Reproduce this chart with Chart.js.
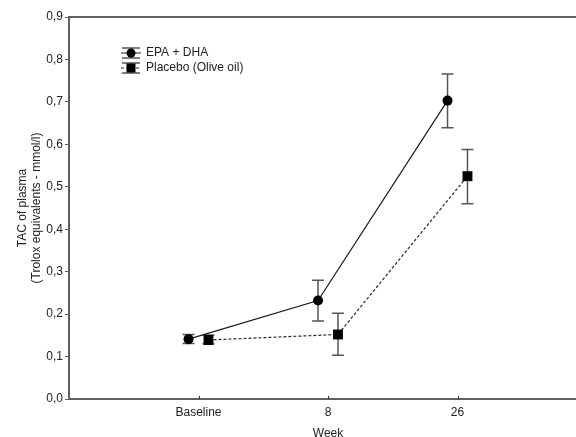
<!DOCTYPE html>
<html lang="en">
<head>
    <meta charset="UTF-8">
    <title>TAC of plasma</title>
    <script src="https://cdn.jsdelivr.net/npm/chart.js"></script>
    <style>
        html, body { margin: 0; padding: 0; background: #fff; overflow: hidden; }
        #wrap { width: 576px; height: 437px; overflow: hidden; }
        canvas { display: block; }
    </style>
</head>
<body>
    <div id="wrap"><canvas id="tacChart" width="600" height="437" style="width:600px;height:437px"></canvas></div>

    <script>
        // data
        const weeks = ["Baseline", "8", "26"];
        const epaMean = [0.141, 0.232, 0.703];
        const epaLow = [0.131, 0.184, 0.639];
        const epaHigh = [0.152, 0.280, 0.766];
        const placeboMean = [0.139, 0.152, 0.525];
        const placeboLow = [0.130, 0.103, 0.460];
        const placeboHigh = [0.151, 0.202, 0.588];
        const yTicks = [0, 0.1, 0.2, 0.3, 0.4, 0.5, 0.6, 0.7, 0.8, 0.9];

        const shift = 0.077; // groups are dodged left/right of each week
        const font = "Liberation Sans, Arial, sans-serif";
        const axisColor = "#5f5f5f";
        const barColor = "#555";

        function points(means, dx) {
            return means.map((v, i) => ({ x: i + 1 + dx, y: v }));
        }

        const errorBars = {
            id: "errorBars",
            beforeDatasetsDraw(chart) {
                const ctx = chart.ctx;
                const xs = chart.scales.x, ys = chart.scales.y;
                const sets = [[epaLow, epaHigh, -shift], [placeboLow, placeboHigh, shift]];
                ctx.save();
                ctx.strokeStyle = barColor;
                ctx.lineWidth = 1.5;
                sets.forEach(([lo, hi, dx]) => {
                    lo.forEach((l, i) => {
                        const x = xs.getPixelForValue(i + 1 + dx);
                        const y1 = ys.getPixelForValue(l);
                        const y2 = ys.getPixelForValue(hi[i]);
                        ctx.beginPath();
                        ctx.moveTo(x, y1); ctx.lineTo(x, y2);
                        ctx.moveTo(x - 6, y1); ctx.lineTo(x + 6, y1);
                        ctx.moveTo(x - 6, y2); ctx.lineTo(x + 6, y2);
                        ctx.stroke();
                    });
                });
                ctx.restore();
            },
            afterDraw(chart) {
                const ctx = chart.ctx;
                const a = chart.chartArea;
                const xs = chart.scales.x;
                ctx.save();
                // top frame line
                ctx.strokeStyle = axisColor;
                ctx.lineWidth = 2;
                ctx.beginPath();
                ctx.moveTo(a.left - 1, a.top);
                ctx.lineTo(a.right, a.top);
                ctx.stroke();
                // small inward ticks on the week axis
                ctx.lineWidth = 1;
                ctx.strokeStyle = "#333";
                [1, 2, 3].forEach(v => {
                    const x = Math.round(xs.getPixelForValue(v)) + 0.5;
                    ctx.beginPath();
                    ctx.moveTo(x, a.bottom);
                    ctx.lineTo(x, a.bottom - 3);
                    ctx.stroke();
                });

                // legend
                const lx = 131;
                const rows = [
                    { y: 53, label: "EPA + DHA", dash: [], shape: "circle" },
                    { y: 68, label: "Placebo (Olive oil)", dash: [3, 2], shape: "rect" }
                ];
                rows.forEach(r => {
                    ctx.strokeStyle = barColor;
                    ctx.lineWidth = 1.5;
                    ctx.setLineDash([]);
                    ctx.beginPath();
                    ctx.moveTo(lx, r.y - 5); ctx.lineTo(lx, r.y + 5);
                    ctx.moveTo(lx - 9, r.y - 5); ctx.lineTo(lx + 9, r.y - 5);
                    ctx.moveTo(lx - 9, r.y + 5); ctx.lineTo(lx + 9, r.y + 5);
                    ctx.stroke();
                    ctx.strokeStyle = "#222";
                    ctx.lineWidth = 1;
                    ctx.setLineDash(r.dash);
                    ctx.beginPath();
                    ctx.moveTo(lx - 10, r.y); ctx.lineTo(lx + 10, r.y);
                    ctx.stroke();
                    ctx.setLineDash([]);
                    ctx.fillStyle = "#000";
                    if (r.shape === "circle") {
                        ctx.beginPath();
                        ctx.arc(lx, r.y, 4.5, 0, Math.PI * 2);
                        ctx.fill();
                    } else {
                        ctx.fillRect(lx - 4.5, r.y - 4.5, 9, 9);
                    }
                    ctx.fillStyle = "#222";
                    ctx.font = "12px " + font;
                    ctx.textBaseline = "middle";
                    ctx.fillText(r.label, 146, r.y);
                });
                ctx.restore();
            }
        };

        new Chart(document.getElementById("tacChart"), {
            type: "line",
            data: {
                datasets: [
                    {
                        label: "EPA + DHA",
                        data: points(epaMean, -shift),
                        borderColor: "#1a1a1a",
                        borderWidth: 1.2,
                        backgroundColor: "#000",
                        pointBackgroundColor: "#000",
                        pointBorderWidth: 0,
                        pointStyle: "circle",
                        pointRadius: 5,
                        tension: 0
                    },
                    {
                        label: "Placebo (Olive oil)",
                        data: points(placeboMean, shift),
                        borderColor: "#2a2a2a",
                        borderWidth: 1.2,
                        borderDash: [3, 2],
                        backgroundColor: "#000",
                        pointBackgroundColor: "#000",
                        pointBorderWidth: 0,
                        pointStyle: "rect",
                        pointRadius: 7,
                        tension: 0
                    }
                ]
            },
            options: {
                responsive: false,
                animation: false,
                layout: { padding: { top: 17, right: 13, left: 0, bottom: 0 } },
                plugins: { legend: { display: false }, tooltip: { enabled: false } },
                scales: {
                    x: {
                        type: "linear",
                        min: 0,
                        max: 4,
                        afterBuildTicks: s => { s.ticks = [1, 2, 3].map(v => ({ value: v })); },
                        afterFit: s => { s.height = 38; },
                        grid: { display: false, drawTicks: false },
                        border: { display: true, color: axisColor, width: 2 },
                        ticks: {
                            callback: v => weeks[v - 1],
                            color: "#222",
                            font: { family: font, size: 12 },
                            padding: 6,
                            maxRotation: 0,
                            autoSkip: false
                        },
                        title: {
                            display: true,
                            text: "Week",
                            color: "#222",
                            font: { family: font, size: 12, lineHeight: 1 },
                            padding: { top: 0, bottom: -3 }
                        }
                    },
                    y: {
                        min: 0,
                        max: 0.9,
                        afterBuildTicks: s => { s.ticks = yTicks.map(v => ({ value: v })); },
                        afterFit: s => { s.width = 69; },
                        grid: { display: true, drawOnChartArea: false, tickLength: 4, color: axisColor, tickWidth: 1 },
                        border: { display: true, color: axisColor, width: 2 },
                        ticks: {
                            callback: v => v.toFixed(1).replace(".", ","),
                            color: "#222",
                            font: { family: font, size: 12 },
                            padding: 2
                        },
                        title: {
                            display: true,
                            text: ["TAC of plasma", "(Trolox equivalents - mmol/l)"],
                            color: "#222",
                            font: { family: font, size: 12, lineHeight: 1.2 },
                            padding: { top: 15, bottom: 0 }
                        }
                    }
                }
            },
            plugins: [errorBars]
        });
    </script>
</body>
</html>
